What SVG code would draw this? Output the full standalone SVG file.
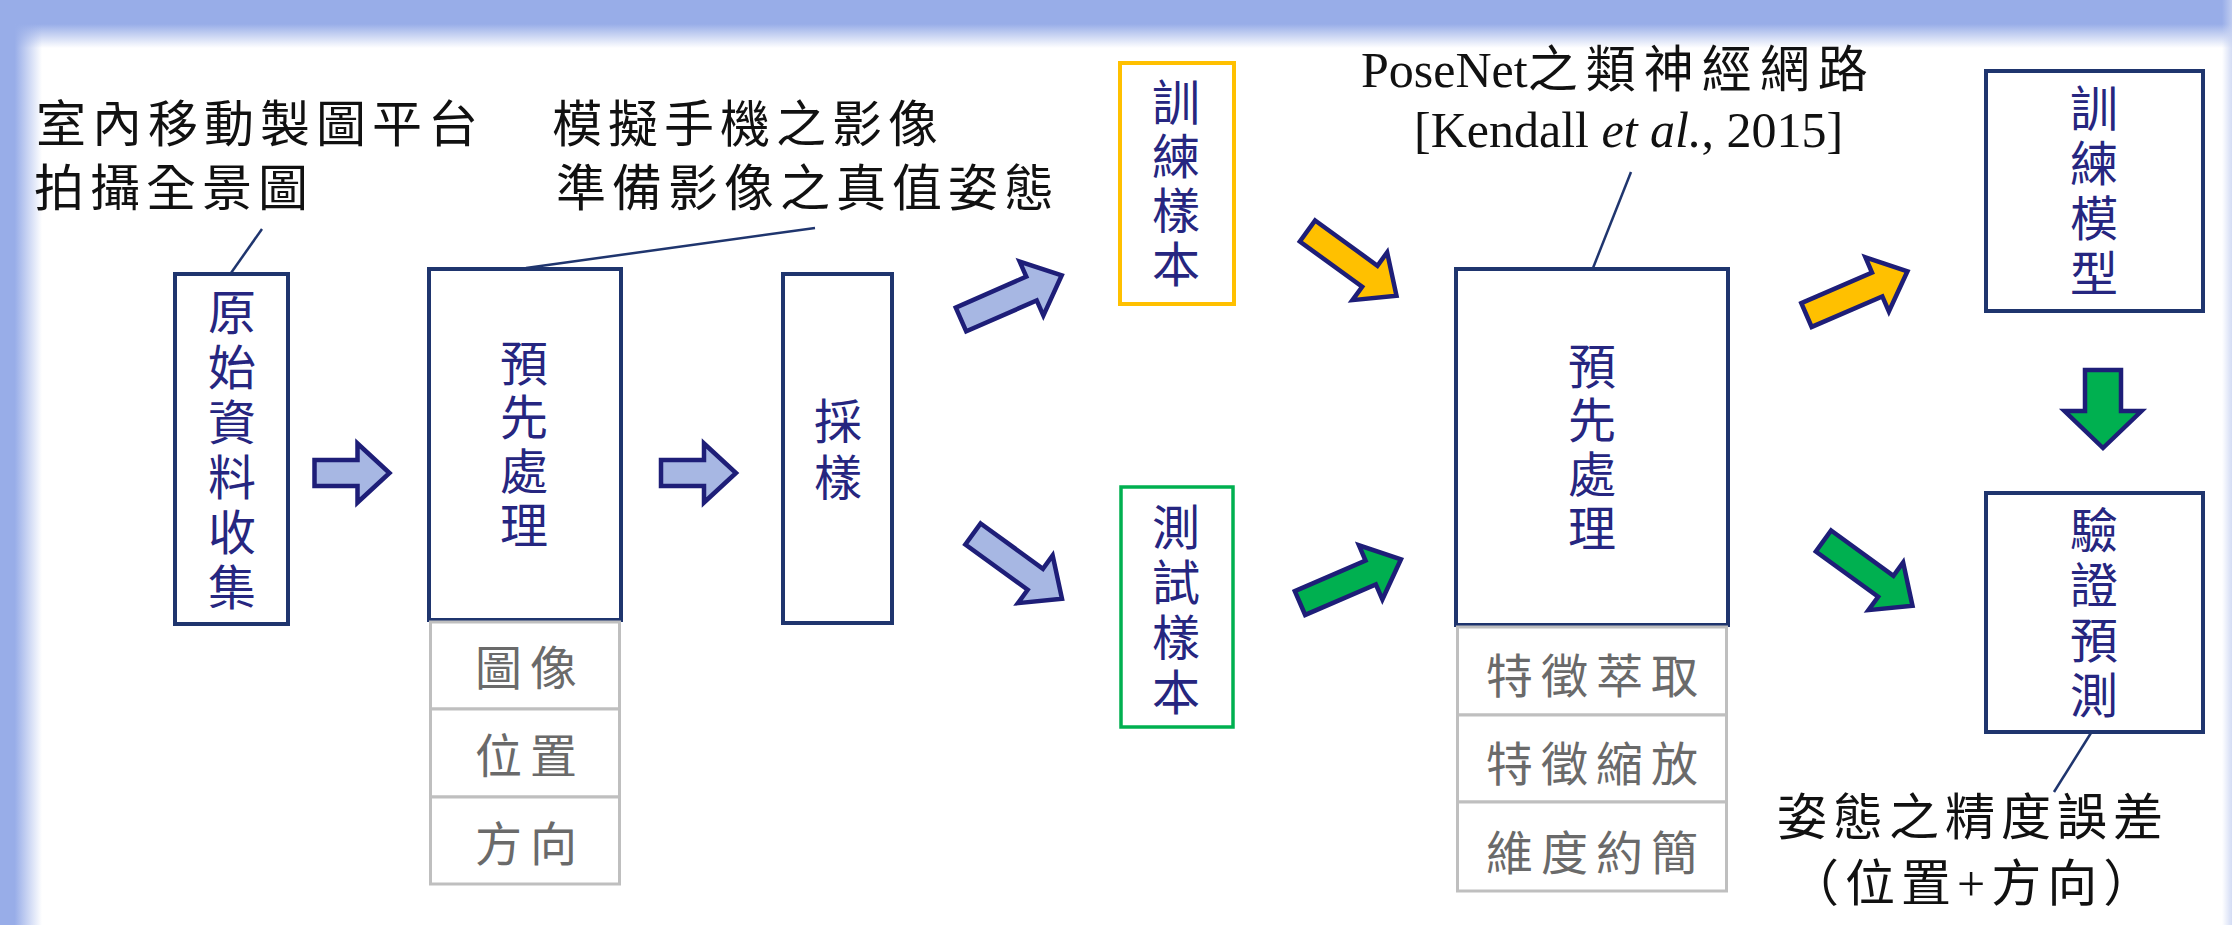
<svg xmlns="http://www.w3.org/2000/svg" width="2232" height="925" viewBox="0 0 2232 925">
<style>
.box{fill:#ffffff;stroke:#1F356E;stroke-width:4}
.sub{fill:#ffffff;stroke:#BFBFBF;stroke-width:3}
.lbl{font-family:"Noto Sans CJK TC","Noto Sans CJK SC",sans-serif;font-size:48px;fill:#262680;writing-mode:vertical-rl;text-orientation:upright}
.sublbl{font-family:"Noto Sans CJK TC","Noto Sans CJK SC",sans-serif;font-size:47px;fill:#6A6A6A;text-anchor:middle;letter-spacing:8px}
.note{font-family:"Liberation Serif","Noto Sans CJK TC","Noto Sans CJK SC",serif;font-size:50px;fill:#111111;letter-spacing:6px}
.ref{font-family:"Liberation Serif","Noto Sans CJK TC",serif;font-size:50px;fill:#111111}
.arrow{stroke:#1E1E78;stroke-width:4.5;stroke-linejoin:miter;stroke-miterlimit:8}
.blue{fill:#A7B7E3}
.yel{fill:#FFC000}
.grn{fill:#00B050}
.lead{stroke:#1F356E;stroke-width:2.5;fill:none}
</style>
<defs>
<linearGradient id="gTop" x1="0" y1="0" x2="0" y2="1">
<stop offset="0" stop-color="#98ADE8" stop-opacity="1"/>
<stop offset="0.5" stop-color="#98ADE8" stop-opacity="1"/>
<stop offset="1" stop-color="#98ADE8" stop-opacity="0"/>
</linearGradient>
<linearGradient id="gLeft" x1="0" y1="0" x2="1" y2="0">
<stop offset="0" stop-color="#98ADE8" stop-opacity="1"/>
<stop offset="0.35" stop-color="#98ADE8" stop-opacity="1"/>
<stop offset="1" stop-color="#98ADE8" stop-opacity="0"/>
</linearGradient>
<linearGradient id="gRight" x1="1" y1="0" x2="0" y2="0">
<stop offset="0" stop-color="#C8D3F2" stop-opacity="0.8"/>
<stop offset="1" stop-color="#C8D3F2" stop-opacity="0"/>
</linearGradient>
<path id="arShort" d="M0,-13 L43,-13 L43,-29.5 L75,0 L43,29.5 L43,13 L0,13 Z"/>
<path id="arLong" d="M0,-13 L77,-13 L77,-29.5 L110,0 L77,29.5 L77,13 L0,13 Z"/>
<path id="arDown" d="M0,-18 L41,-18 L41,-38.5 L78,0 L41,38.5 L41,18 L0,18 Z"/>
</defs>

<g id="background">
<rect x="0" y="0" width="2232" height="925" fill="#ffffff"/>
<rect x="0" y="0" width="2232" height="48" fill="url(#gTop)"/>
<rect x="0" y="0" width="42" height="925" fill="url(#gLeft)"/>
<rect x="2222" y="0" width="10" height="925" fill="url(#gRight)"/>
</g>

<g id="annotations">
<text class="note" x="36" y="142">室內移動製圖平台</text>
<text class="note" x="34" y="206">拍攝全景圖</text>
<text class="note" x="552" y="142">模擬手機之影像</text>
<text class="note" x="556" y="206">準備影像之真值姿態</text>
<text class="ref" x="1361" y="87">PoseNet<tspan letter-spacing="8">之類神經網路</tspan></text>
<text class="ref" x="1414" y="147">[Kendall <tspan font-style="italic">et al.</tspan>, 2015]</text>
<text class="note" x="1777" y="835">姿態之精度誤差</text>
<text class="note" x="1789" y="901">（位置+方向）</text>
</g>

<g id="connectors">
<line class="lead" x1="231" y1="273" x2="262" y2="229"/>
<line class="lead" x1="526" y1="268" x2="815" y2="228"/>
<line class="lead" x1="1593" y1="268" x2="1631" y2="172"/>
<line class="lead" x1="2091" y1="733" x2="2054" y2="792"/>
<use href="#arShort" class="arrow blue" transform="translate(314.5,473)"/>
<use href="#arShort" class="arrow blue" transform="translate(661,473)"/>
<use href="#arLong" class="arrow blue" transform="translate(961,319.5) rotate(-23.7)"/>
<use href="#arLong" class="arrow blue" transform="translate(973,534) rotate(36)"/>
<use href="#arLong" class="arrow yel" transform="translate(1307.5,231) rotate(36)"/>
<use href="#arLong" class="arrow grn" transform="translate(1300,603) rotate(-23.4)"/>
<use href="#arLong" class="arrow yel" transform="translate(1806.5,315) rotate(-23.4)"/>
<use href="#arLong" class="arrow grn" transform="translate(1823.5,541) rotate(36)"/>
<use href="#arDown" class="arrow grn" transform="translate(2103,370) rotate(90)"/>
</g>

<g id="node-raw">
<rect class="box" x="175" y="274" width="113" height="350"/>
<text class="lbl" x="232" y="288" letter-spacing="7">原始資料收集</text>
</g>

<g id="node-pre1">
<rect class="box" x="429" y="269" width="192" height="351"/>
<text class="lbl" x="524" y="339" letter-spacing="6">預先處理</text>
</g>
<g id="node-pre1-items">
<rect class="sub" x="430.5" y="622" width="189" height="87"/>
<rect class="sub" x="430.5" y="709" width="189" height="88"/>
<rect class="sub" x="430.5" y="797" width="189" height="87"/>
<text class="sublbl" x="530" y="685">圖像</text>
<text class="sublbl" x="530" y="773">位置</text>
<text class="sublbl" x="530" y="861">方向</text>
</g>

<g id="node-sample">
<rect class="box" x="783" y="274" width="109" height="349"/>
<text class="lbl" x="838" y="397" letter-spacing="8">採樣</text>
</g>

<g id="node-train-set">
<rect x="1120" y="63" width="114" height="241" fill="#ffffff" stroke="#FFC000" stroke-width="4"/>
<text class="lbl" x="1176" y="78" letter-spacing="6">訓練樣本</text>
</g>

<g id="node-test-set">
<rect x="1121" y="487" width="112" height="240" fill="#ffffff" stroke="#00B050" stroke-width="3.5"/>
<text class="lbl" x="1176" y="503" letter-spacing="7">測試樣本</text>
</g>

<g id="node-pre2">
<rect class="box" x="1456" y="269" width="272" height="356"/>
<text class="lbl" x="1592" y="342" letter-spacing="6">預先處理</text>
</g>
<g id="node-pre2-items">
<rect class="sub" x="1457.5" y="627" width="269" height="88"/>
<rect class="sub" x="1457.5" y="715" width="269" height="87"/>
<rect class="sub" x="1457.5" y="802" width="269" height="89"/>
<text class="sublbl" x="1596" y="693">特徵萃取</text>
<text class="sublbl" x="1596" y="781">特徵縮放</text>
<text class="sublbl" x="1596" y="870">維度約簡</text>
</g>

<g id="node-train-model">
<rect class="box" x="1986" y="71" width="217" height="240"/>
<text class="lbl" x="2094" y="84" letter-spacing="7">訓練模型</text>
</g>

<g id="node-validate">
<rect class="box" x="1986" y="493" width="217" height="239"/>
<text class="lbl" x="2094" y="506" letter-spacing="7">驗證預測</text>
</g>
</svg>
